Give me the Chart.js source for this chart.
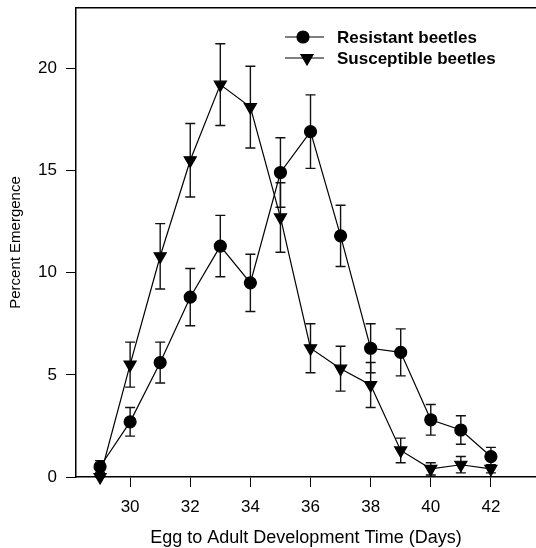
<!DOCTYPE html>
<html>
<head>
<meta charset="utf-8">
<script src="https://cdn.jsdelivr.net/npm/chart.js@4"></script>
<style>
  html, body { margin: 0; padding: 0; background: #fff; overflow: hidden; }
  canvas { display: block; }
</style>
</head>
<body>
<canvas id="myChart" width="536" height="548"></canvas>
<script>
// development time in days
var days = [29, 30, 31, 32, 33, 34, 35, 36, 37, 38, 39, 40, 41, 42];
// percent emergence, resistant beetles (circles)
var resistant = [0.5, 2.7, 5.6, 8.8, 11.3, 9.5, 14.9, 16.9, 11.8, 6.3, 6.1, 2.8, 2.3, 1.0];
var resistantErr = [0.3, 0.7, 1.0, 1.4, 1.5, 1.4, 1.7, 1.8, 1.5, 1.2, 1.15, 0.75, 0.7, 0.45];
// percent emergence, susceptible beetles (triangles)
var susceptible = [0, 5.5, 10.8, 15.5, 19.2, 18.1, 12.7, 6.3, 5.3, 4.5, 1.3, 0.4, 0.6, 0.4];
var susceptibleErr = [0.2, 1.1, 1.6, 1.8, 2.0, 2.0, 1.7, 1.2, 1.1, 1.1, 0.6, 0.3, 0.4, 0.2];
// tick labels
var xTicks = [30, 32, 34, 36, 38, 40, 42];
var yTicks = [0, 5, 10, 15, 20];

function toPoints(xs, ys) {
  return xs.map(function (x, i) { return { x: x, y: ys[i] }; });
}

// draws the vertical error bars with caps, using the chart scales
var errorBars = {
  id: 'errorBars',
  beforeDatasetsDraw: function (chart) {
    var ctx = chart.ctx;
    var xs = chart.scales.x, ys = chart.scales.y;
    var errs = [resistantErr, susceptibleErr];
    ctx.save();
    ctx.strokeStyle = '#111';
    ctx.lineWidth = 1.4;
    chart.data.datasets.forEach(function (ds, d) {
      ds.data.forEach(function (p, i) {
        var e = errs[d][i];
        var px = xs.getPixelForValue(p.x);
        var top = ys.getPixelForValue(p.y + e);
        var bot = ys.getPixelForValue(Math.max(p.y - e, 0));
        ctx.beginPath();
        ctx.moveTo(px, top); ctx.lineTo(px, bot);
        ctx.moveTo(px - 5, top); ctx.lineTo(px + 5, top);
        ctx.moveTo(px - 5, bot); ctx.lineTo(px + 5, bot);
        ctx.stroke();
      });
    });
    ctx.restore();
  }
};

// legend inside the plot, top right
var innerLegend = {
  id: 'innerLegend',
  afterDraw: function (chart) {
    var ctx = chart.ctx;
    var rows = [
      { label: 'Resistant beetles', style: 'circle', r: 6, rot: 0, x: 303, y: 37 },
      { label: 'Susceptible beetles', style: 'triangle', r: 7, rot: 180, x: 307, y: 58 }
    ];
    ctx.save();
    rows.forEach(function (row) {
      ctx.strokeStyle = '#000';
      ctx.lineWidth = 1.2;
      ctx.beginPath();
      ctx.moveTo(285, row.y); ctx.lineTo(324, row.y);
      ctx.stroke();
      ctx.fillStyle = '#000';
      Chart.helpers.drawPoint(ctx, { pointStyle: row.style, radius: row.r, rotation: row.rot, borderWidth: 1 }, row.x, row.y);
      ctx.font = 'bold 17px "Liberation Sans", Arial, sans-serif';
      ctx.textBaseline = 'middle';
      ctx.textAlign = 'left';
      ctx.fillText(row.label, 337, row.y + 1);
    });
    ctx.restore();
  }
};

var tickFont = { family: '"Liberation Sans", Arial, sans-serif', size: 17 };

var ctx = document.getElementById('myChart');
var myChart = new Chart(ctx, {
  type: 'line',
  data: {
    datasets: [
      {
        label: 'Resistant beetles',
        data: toPoints(days, resistant),
        borderColor: '#000',
        borderWidth: 1.2,
        backgroundColor: '#000',
        pointStyle: 'circle',
        pointRadius: 6,
        pointBackgroundColor: '#000',
        pointBorderColor: '#000',
        fill: false
      },
      {
        label: 'Susceptible beetles',
        data: toPoints(days, susceptible),
        borderColor: '#000',
        borderWidth: 1.2,
        backgroundColor: '#000',
        pointStyle: 'triangle',
        pointRotation: 180,
        pointRadius: 7,
        pointBackgroundColor: '#000',
        pointBorderColor: '#000',
        fill: false
      }
    ]
  },
  options: {
    responsive: false,
    animation: false,
    devicePixelRatio: 1,
    clip: false,
    layout: { autoPadding: false, padding: { top: 8, right: 0, left: 0, bottom: 0 } },
    plugins: {
      legend: { display: false },
      tooltip: { enabled: false }
    },
    scales: {
      x: {
        type: 'linear',
        min: 28.2,
        max: 43.5,
        afterBuildTicks: function (scale) {
          scale.ticks = xTicks.map(function (v) { return { value: v }; });
        },
        afterFit: function (scale) {
          scale.height = 71;
          scale.paddingLeft = 0;
          scale.paddingRight = 0;
        },
        grid: { drawOnChartArea: false, drawTicks: true, tickLength: 10, color: '#000' },
        border: { color: '#000', width: 1.5 },
        ticks: { color: '#000', font: tickFont, padding: 10, maxRotation: 0 },
        title: {
          display: true,
          text: 'Egg to Adult Development Time (Days)',
          color: '#000',
          font: { family: '"Liberation Sans", Arial, sans-serif', size: 18 },
          padding: { top: 0, bottom: -1 }
        }
      },
      top: {
        type: 'linear',
        position: 'top',
        min: 28.2,
        max: 43.5,
        afterFit: function (scale) { scale.height = 0; },
        grid: { display: false },
        ticks: { display: false },
        border: { color: '#000', width: 1.5 }
      },
      y: {
        min: 0,
        max: 22.95,
        afterBuildTicks: function (scale) {
          scale.ticks = yTicks.map(function (v) { return { value: v }; });
        },
        afterFit: function (scale) {
          scale.width = 76;
          scale.paddingTop = 0;
          scale.paddingBottom = 0;
        },
        grid: { drawOnChartArea: false, drawTicks: true, tickLength: 10, color: '#000' },
        border: { color: '#000', width: 1.5 },
        ticks: { color: '#000', font: tickFont, padding: 9 },
        title: {
          display: true,
          text: 'Percent Emergence',
          color: '#000',
          font: { family: '"Liberation Sans", Arial, sans-serif', size: 15 },
          padding: { top: 7, bottom: 4 }
        }
      }
    }
  },
  plugins: [errorBars, innerLegend]
});
</script>
</body>
</html>
